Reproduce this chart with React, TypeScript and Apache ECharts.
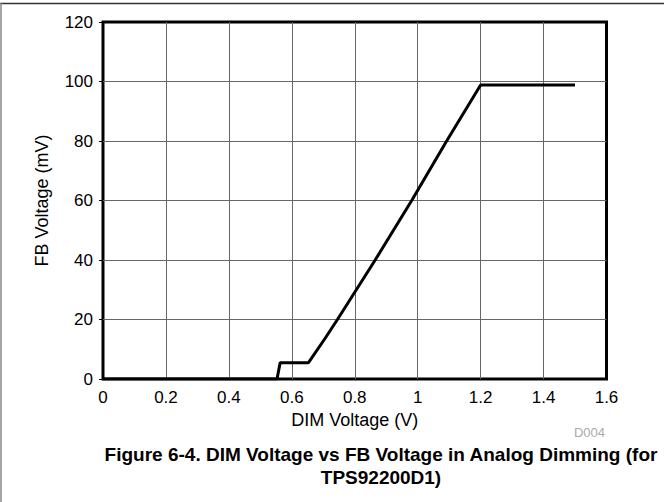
import React, { useEffect, useRef } from "react";
import * as echarts from "echarts";

const dimVoltage = [0, 0.553, 0.563, 0.653, 0.706, 0.745, 0.865, 0.981, 1.092, 1.2, 1.5];
const fbVoltage = [0, 0, 5.5, 5.5, 13.7, 20, 40, 60, 80, 98.8, 98.8];
const xName = "DIM Voltage (V)";
const yName = "FB Voltage (mV)";
const figTitle = "Figure 6-4. DIM Voltage vs FB Voltage in Analog Dimming (for\nTPS92200D1)";
const figCode = "D004";

const FONT = '"Liberation Sans", Arial, sans-serif';

export default function App() {
  const ref = useRef<HTMLDivElement>(null);
  useEffect(() => {
    if (!ref.current) return;
    const chart = echarts.init(ref.current, null, { renderer: "svg" });
    const data = dimVoltage.map((x, i) => [x, fbVoltage[i]]);
    chart.setOption({
      animation: false,
      backgroundColor: "#fff",
      textStyle: { fontFamily: FONT },
      grid: {
        left: 103,
        right: 57.5,
        top: 22,
        bottom: 123,
        show: true,
        borderColor: "#000",
        borderWidth: 3,
        backgroundColor: "transparent",
      },
      xAxis: {
        type: "value",
        min: 0,
        max: 1.6,
        interval: 0.2,
        name: xName,
        nameLocation: "middle",
        nameGap: 29,
        nameTextStyle: { fontSize: 18, color: "#000", fontFamily: FONT },
        axisLine: { show: false },
        axisTick: { show: false },
        axisLabel: { fontSize: 17, color: "#000", margin: 10, fontFamily: FONT },
        splitLine: { show: true, showMinLine: false, showMaxLine: false, lineStyle: { color: "#666", width: 1 } },
      },
      yAxis: {
        type: "value",
        min: 0,
        max: 120,
        interval: 20,
        name: yName,
        nameLocation: "middle",
        nameGap: 52,
        nameTextStyle: { fontSize: 18, color: "#000", fontFamily: FONT },
        axisLine: { show: false },
        axisTick: { show: true, length: 4, lineStyle: { color: "#000", width: 1 } },
        axisLabel: { fontSize: 17, color: "#000", margin: 10, fontFamily: FONT },
        splitLine: { show: true, showMinLine: false, showMaxLine: false, lineStyle: { color: "#666", width: 1 } },
      },
      series: [
        {
          type: "line",
          data,
          showSymbol: false,
          symbol: "none",
          lineStyle: { color: "#000", width: 3 },
          z: 5,
        },
      ],
      graphic: [
        { type: "line", shape: { x1: 0, y1: 3.5, x2: 664, y2: 3.5 }, style: { stroke: "#333", lineWidth: 1.5 } },
        { type: "line", shape: { x1: 1, y1: 3, x2: 1, y2: 502 }, style: { stroke: "#888", lineWidth: 1.5 } },
        {
          type: "text",
          x: 605,
          y: 432,
          style: { text: figCode, font: `13px ${FONT}`, fill: "#aaa", textAlign: "right", textVerticalAlign: "middle" },
        },
        {
          type: "text",
          x: 381,
          y: 443,
          style: {
            text: figTitle,
            font: `bold 19px ${FONT}`,
            fill: "#000",
            textAlign: "center",
            textVerticalAlign: "top",
            lineHeight: 23,
          },
        },
      ],
    });
    return () => chart.dispose();
  }, []);
  return (
    <div
      ref={ref}
      style={{ position: "fixed", left: 0, top: 0, width: 664, height: 502, background: "#fff" }}
    />
  );
}
